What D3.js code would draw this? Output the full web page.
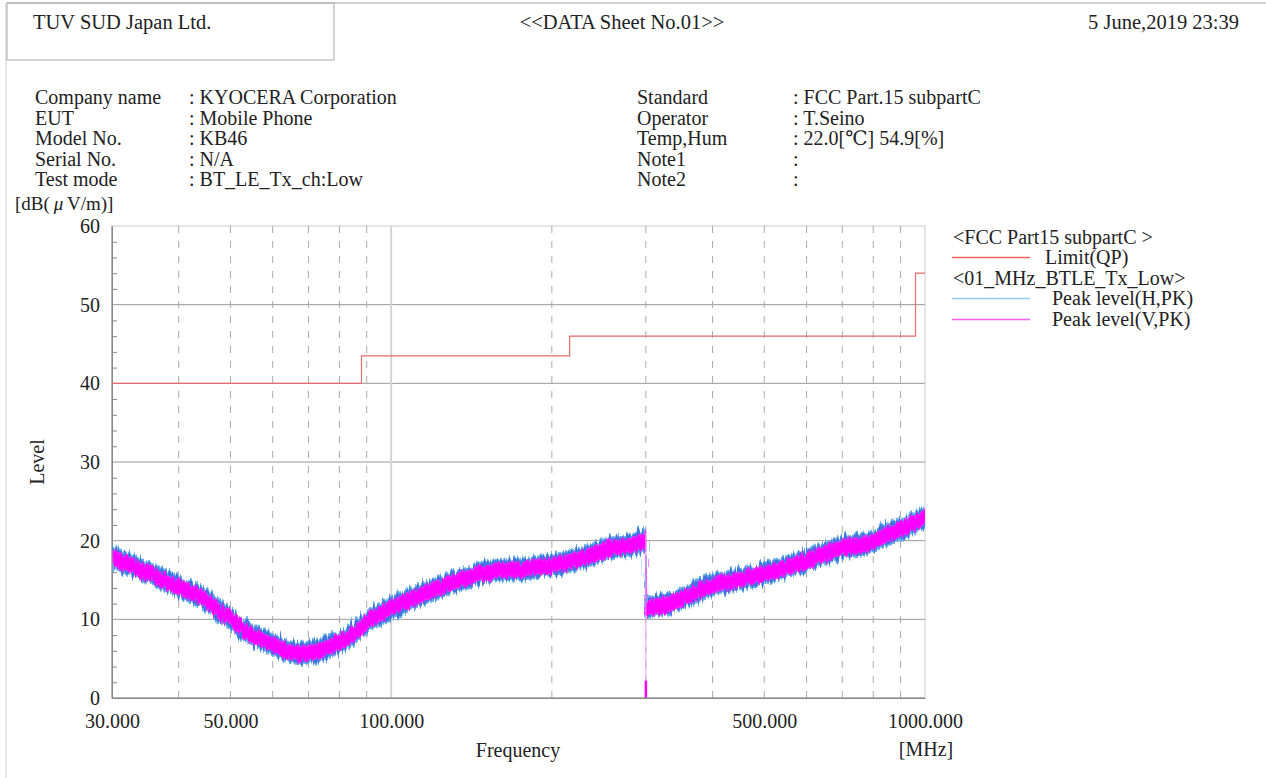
<!DOCTYPE html>
<html lang="en">
<head>
<meta charset="UTF-8">
<title>DATA Sheet No.01</title>
<script src="https://d3js.org/d3.v7.min.js"></script>
<style>
  body { margin: 0; background: #fff; }
  svg, svg text { font-family: 'Liberation Serif', 'DejaVu Serif', serif; }
  svg text { fill: #222; }
  .grid-h { stroke: #999; stroke-width: 1; }
  .grid-v { stroke: #aaa; stroke-width: 1; stroke-dasharray: 7,8; }
  .grid-100 { stroke: #d4d4d4; stroke-width: 2; }
  .axis path, .axis line { stroke: #888; }
  .axis text { font-size: 20px; font-family: 'Liberation Serif', serif; fill: #222; }
</style>
</head>
<body>
<svg id="chart" width="1266" height="778" font-family="Liberation Serif"></svg>
<script>
// ---- data read from the sheet ----
var freqMHz = [30, 33, 39, 44, 48.5, 53.6, 58.5, 63.8, 67.5, 72.5, 78, 84, 91, 99.5, 112, 129, 149, 177, 200, 230, 255, 280, 299.5,
               300.5, 333, 374, 401, 450, 502, 559, 627, 703, 767, 836, 924, 1000];
// peak level (H,PK) envelope
var hLow  = [16.6, 15.4, 13.1, 11.6, 9.4, 7.1, 5.9, 4.6, 4.3, 4.6, 5.4, 6.5, 8.6, 10.1, 11.6, 13.3, 14.7, 15.1, 15.5, 16.5, 17.7, 18.1, 18.7,
             10.1, 10.7, 12.2, 13.1, 13.7, 14.5, 15.4, 16.7, 17.9, 18.1, 19.2, 20.5, 21.7];
var hHigh = [19.3, 18.1, 15.8, 14.3, 12.1, 9.8, 8.6, 7.3, 7.0, 7.3, 8.1, 9.2, 11.3, 12.8, 14.3, 16.0, 17.4, 17.8, 18.2, 19.2, 20.4, 20.8, 21.4,
             12.8, 13.4, 14.9, 15.8, 16.4, 17.2, 18.1, 19.4, 20.6, 20.8, 21.9, 23.2, 24.4];
// peak level (V,PK) envelope
var vLow  = [17.0, 15.8, 13.5, 12.0, 9.8, 7.5, 6.3, 5.0, 4.7, 5.0, 5.8, 6.9, 9.0, 10.5, 12.0, 13.7, 15.1, 15.5, 15.9, 16.9, 18.1, 18.5, 19.1,
             10.5, 11.1, 12.6, 13.5, 14.1, 14.9, 15.8, 17.1, 18.3, 18.5, 19.6, 20.9, 22.1];
var vHigh = [18.8, 17.6, 15.3, 13.8, 11.6, 9.3, 8.1, 6.8, 6.5, 6.8, 7.6, 8.7, 10.8, 12.3, 13.8, 15.5, 16.9, 17.3, 17.7, 18.7, 19.9, 20.3, 20.9,
             12.3, 12.9, 14.4, 15.3, 15.9, 16.7, 17.6, 18.9, 20.1, 20.3, 21.4, 22.7, 23.9];

// limit (QP)
var limitFreq  = [30, 88, 88, 216, 216, 960, 960, 1000];
var limitLevel = [40, 40, 43.5, 43.5, 46, 46, 54, 54];

// sweep boundary at 300 MHz
var edgeFreq  = [300, 300];
var edgeLevel = [21, 0];
var spikeLevel = [0, 2.2];

var yTicks = [0, 10, 20, 30, 40, 50, 60];
var yMinor = [2, 4, 6, 8, 12, 14, 16, 18, 22, 24, 26, 28, 32, 34, 36, 38, 42, 44, 46, 48, 52, 54, 56, 58];
var xTickLabels = [30, 50, 100, 500, 1000];
var gridFreq = [40, 50, 60, 70, 80, 90, 200, 300, 400, 500, 600, 700, 800, 900];

var infoLeft = [["Company name", ": KYOCERA Corporation"], ["EUT", ": Mobile Phone"], ["Model No.", ": KB46"],
                ["Serial No.", ": N/A"], ["Test mode", ": BT_LE_Tx_ch:Low"]];
var infoRight = [["Standard", ": FCC Part.15 subpartC"], ["Operator", ": T.Seino"], ["Temp,Hum", ": 22.0[\u2103] 54.9[%]"],
                 ["Note1", ":"], ["Note2", ":"]];

// ---- drawing ----
var SERIF = "'Liberation Serif', 'DejaVu Serif', serif";
var svg = d3.select("#chart");
var x = d3.scaleLog().domain([30, 1000]).range([112, 925]);
var y = d3.scaleLinear().domain([0, 60]).range([698, 226]);

function label(px, py, str, anchor) {
  return svg.append("text").attr("x", px).attr("y", py)
    .attr("text-anchor", anchor || "start")
    .style("font-family", SERIF).style("font-size", "20px").text(str);
}

// jagged look for the measured traces (rendering only)
var defs = svg.append("defs");
[["jagH", 4, 13], ["jagV", 9, 11]].forEach(function(f) {
  var flt = defs.append("filter").attr("id", f[0]).attr("filterUnits", "userSpaceOnUse")
    .attr("x", 100).attr("y", 200).attr("width", 840).attr("height", 520);
  flt.append("feTurbulence").attr("type", "fractalNoise").attr("baseFrequency", "0.45 0.02")
    .attr("numOctaves", 2).attr("seed", f[1]).attr("result", "n");
  flt.append("feDisplacementMap").attr("in", "SourceGraphic").attr("in2", "n").attr("scale", f[2])
    .attr("xChannelSelector", "B").attr("yChannelSelector", "R");
});
defs.append("clipPath").attr("id", "plotClip")
  .append("rect").attr("x", 112).attr("y", 226).attr("width", 813).attr("height", 472);

// page frame / header box
svg.append("line").attr("x1", 7).attr("x2", 1266).attr("y1", 3).attr("y2", 3).attr("stroke", "#aaa");
svg.append("line").attr("x1", 6).attr("x2", 6).attr("y1", 3).attr("y2", 778).attr("stroke", "#ccc");
svg.append("rect").attr("x", 7).attr("y", 3).attr("width", 327).attr("height", 57)
  .attr("fill", "none").attr("stroke", "#aaa");

label(33, 29, "TUV SUD Japan Ltd.").style("font-size", "20.5px");
label(622, 29, "<<DATA Sheet No.01>>", "middle").style("font-size", "20.5px");
label(1239, 29, "5 June,2019 23:39", "end").style("font-size", "20.5px");

// info block
var rowY = [104, 124.5, 145, 165.5, 186];
infoLeft.forEach(function(r, i) {
  label(35, rowY[i], r[0]);
  label(189, rowY[i], r[1]);
});
infoRight.forEach(function(r, i) {
  label(637, rowY[i], r[0]);
  label(793, rowY[i], r[1]);
});

var unit = label(15, 210, "").style("font-size", "19px");
unit.append("tspan").text("[dB(");
unit.append("tspan").style("font-style", "italic").text("\u2009\u03bc\u2009");
unit.append("tspan").text("V/m)]");

// plot frame
svg.append("rect").attr("x", 112).attr("y", 226).attr("width", 813).attr("height", 472)
  .attr("fill", "none").attr("stroke", "#ccc");

// grid
svg.selectAll(".grid-h").data(yTicks.filter(function(d) { return d > 0 && d < 60; }))
  .enter().append("line").attr("class", "grid-h")
  .attr("x1", 112).attr("x2", 925)
  .attr("y1", function(d) { return y(d); }).attr("y2", function(d) { return y(d); });

svg.selectAll(".grid-v").data(gridFreq)
  .enter().append("line").attr("class", "grid-v")
  .attr("x1", function(d) { return x(d); }).attr("x2", function(d) { return x(d); })
  .attr("y1", 226).attr("y2", 698);

svg.append("line").attr("class", "grid-100")
  .attr("x1", x(100)).attr("x2", x(100)).attr("y1", 226).attr("y2", 698);

// axes
svg.append("g").attr("class", "axis").attr("transform", "translate(112,0)")
  .call(d3.axisLeft(y).tickValues(yMinor).tickSize(-5).tickFormat(""))
  .call(function(g) { g.select(".domain").remove(); });

svg.append("g").attr("class", "axis").attr("transform", "translate(112,0)")
  .attr("font-family", SERIF)
  .call(d3.axisLeft(y).tickValues(yTicks).tickSize(0).tickPadding(12))
  .call(function(g) { g.selectAll("text").style("font-family", SERIF).style("font-size", "20px"); });

svg.append("g").attr("class", "axis").attr("transform", "translate(0,698)")
  .call(d3.axisBottom(x).tickValues(xTickLabels).tickFormat(d3.format(".3f")).tickSize(0).tickPadding(16))
  .call(function(g) { g.selectAll("text").style("font-family", SERIF).style("font-size", "20px"); });

label(0, 0, "Level", "middle").attr("transform", "translate(44,462) rotate(-90)");
label(518, 757, "Frequency", "middle");
label(926, 756, "[MHz]", "middle");

// traces
var band = function(lo, hi) {
  return d3.area()
    .x(function(d, i) { return x(freqMHz[i]); })
    .y0(function(d, i) { return y(lo[i]); })
    .y1(function(d, i) { return y(hi[i]); });
};

var traces = svg.append("g").attr("clip-path", "url(#plotClip)");
traces.append("path").attr("d", band(hLow, hHigh)(freqMHz))
  .attr("fill", "#3f72e0").attr("stroke", "#6aaee8").attr("stroke-width", 2)
  .attr("filter", "url(#jagH)");
traces.append("path").attr("d", band(vLow, vHigh)(freqMHz))
  .attr("fill", "#ff00ff").attr("stroke", "#ff22ff").attr("stroke-width", 1.5)
  .attr("filter", "url(#jagV)");

var lineXY = function(fs, ls) {
  return d3.line().x(function(d, i) { return x(fs[i]); }).y(function(d, i) { return y(ls[i]); })(fs);
};

svg.append("path").attr("d", lineXY(edgeFreq, edgeLevel))
  .attr("fill", "none").attr("stroke", "#f29bf2").attr("stroke-width", 1);
svg.append("path").attr("d", lineXY(edgeFreq, spikeLevel))
  .attr("fill", "none").attr("stroke", "#ff00ff").attr("stroke-width", 2.5);

// limit line
svg.append("path").attr("d", lineXY(limitFreq, limitLevel))
  .attr("fill", "none").attr("stroke", "#e66a6a").attr("stroke-width", 1.2);

// axis lines on top
svg.append("line").attr("x1", 112).attr("x2", 112).attr("y1", 226).attr("y2", 698).attr("stroke", "#888");
svg.append("line").attr("x1", 112).attr("x2", 925).attr("y1", 698).attr("y2", 698).attr("stroke", "#888");

// legend
label(953, 244, "<FCC Part15 subpartC >");
svg.append("line").attr("x1", 952).attr("x2", 1030).attr("y1", 257.5).attr("y2", 257.5)
  .style("stroke", "#ee5f5f").style("stroke-width", 1.3);
label(1045, 264, "Limit(QP)");
label(953, 285, "<01_MHz_BTLE_Tx_Low>");
svg.append("line").attr("x1", 952).attr("x2", 1030).attr("y1", 298.5).attr("y2", 298.5)
  .style("stroke", "#8fcbef").style("stroke-width", 1.3);
label(1052, 305, "Peak level(H,PK)");
svg.append("line").attr("x1", 952).attr("x2", 1030).attr("y1", 319.5).attr("y2", 319.5)
  .style("stroke", "#ee66ee").style("stroke-width", 1.3);
label(1052, 326, "Peak level(V,PK)");
</script>
</body>
</html>
